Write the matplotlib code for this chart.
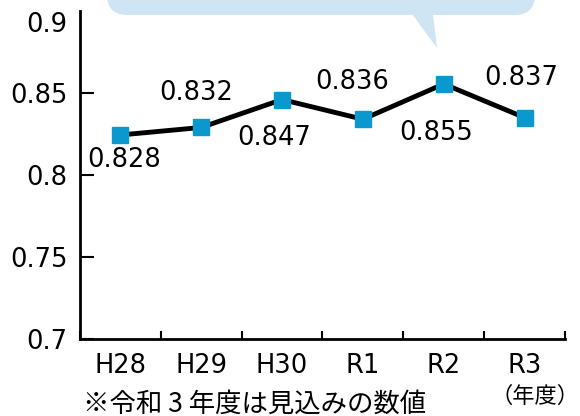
import matplotlib
matplotlib.use('Agg')
import matplotlib.pyplot as plt
from matplotlib.patches import FancyBboxPatch, Polygon
from matplotlib.transforms import ScaledTranslation

years = ['H28', 'H29', 'H30', 'R1', 'R2', 'R3']
values = [0.8244, 0.829, 0.846, 0.834, 0.8555, 0.835]
value_labels = ['0.828', '0.832', '0.847', '0.836', '0.855', '0.837']
# label offsets in pixels from each marker
label_dx = [4, -5, -8, -11, -8, -3]
label_dy = [-25, 34, -38, 37, -49, 40]
yticks = [0.7, 0.75, 0.8, 0.85, 0.9]
ytick_labels = ['0.7', '0.75', '0.8', '0.85', '0.9']

plt.rcParams['font.family'] = ['DejaVu Sans']
jp_font = ['Noto Sans CJK JP', 'DejaVu Sans']

fig = plt.figure(figsize=(5.8, 4.16), dpi=100)
ax = fig.add_axes([80/580, 1 - 339/416, 485/580, 328/416])

x = list(range(len(years)))
ax.plot(x, values, color='black', linewidth=3.5, marker='s', markersize=12,
        markerfacecolor='#0a98cf', markeredgecolor='#0a98cf', zorder=3)

for i in range(len(years)):
    ax.annotate(value_labels[i], (x[i], values[i]), xytext=(label_dx[i], label_dy[i]),
                textcoords='offset pixels', ha='center', va='center', fontsize=18.5)

ax.set_xlim(-0.5, len(years) - 0.5)
ax.set_ylim(0.7, 0.9)
ax.set_xticks(x)
ax.set_xticklabels(years, fontsize=18.5)
ax.set_xticks([i - 0.5 for i in range(len(years) + 1)], minor=True)
ax.tick_params(axis='x', which='major', length=0, pad=10)
ax.tick_params(axis='x', which='minor', direction='in', length=6, width=1.5)
ax.set_yticks(yticks)
ax.set_yticklabels(ytick_labels, fontsize=18.5)
ax.tick_params(axis='y', direction='in', length=10, width=1.5, pad=9)
ax.yaxis.get_major_ticks()[-1].tick1line.set_visible(False)
top_lab = ax.get_yticklabels()[-1]
top_lab.set_transform(top_lab.get_transform() + ScaledTranslation(0, -0.11, fig.dpi_scale_trans))

for s in ['top', 'right']:
    ax.spines[s].set_visible(False)
for s in ['left', 'bottom']:
    ax.spines[s].set_linewidth(2)

# speech bubble cut off at the top
bubble_col = '#cfe5f3'
fig.patches.append(FancyBboxPatch((107/580, 1 - 15/416), 428/580, 60/416,
                                  boxstyle='round,pad=0,rounding_size=0.035',
                                  transform=fig.transFigure, facecolor=bubble_col,
                                  edgecolor='none', mutation_aspect=580/416))
fig.patches.append(Polygon([(412/580, 1 - 14/416), (433/580, 1 - 14/416), (437/580, 1 - 48/416)],
                           closed=True, transform=fig.transFigure, facecolor=bubble_col,
                           edgecolor='none'))

fig.text(83/580, 1 - 404/416, '※令和 3 年度は見込みの数値', fontsize=19, family=jp_font,
         ha='left', va='center')
fig.text(579/580, 1 - 396/416, '（年度）', fontsize=16, family=jp_font,
         ha='right', va='center')

fig.savefig('out.png', dpi=100)
